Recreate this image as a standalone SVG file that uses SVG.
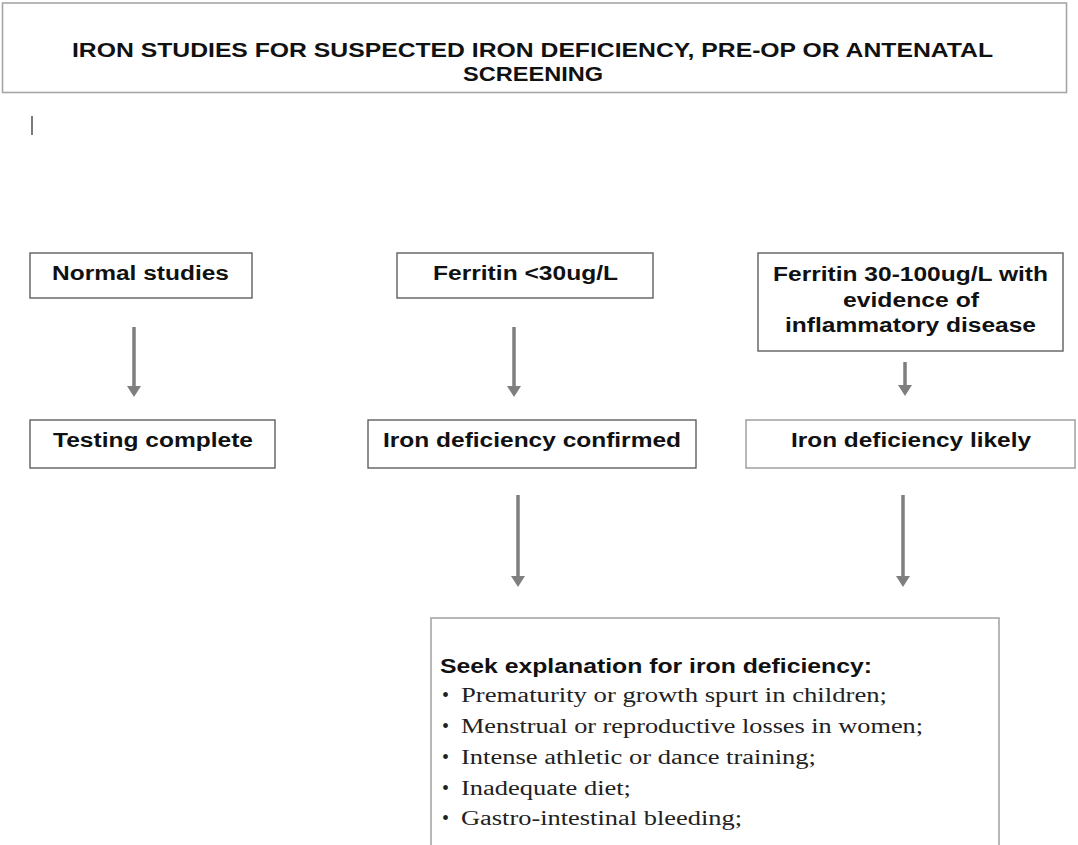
<svg xmlns="http://www.w3.org/2000/svg" width="1078" height="845" viewBox="0 0 1078 845">
  <style>
    .box { fill: #ffffff; stroke: #5f5f5f; stroke-width: 1.4; }
    .lbox { fill: #ffffff; stroke: #a6a6a6; stroke-width: 1.6; }
    .t { font-family: "Liberation Sans", Arial, sans-serif; font-weight: bold; font-size: 20px; fill: #111; }
    .title { font-family: "Liberation Sans", Arial, sans-serif; font-weight: bold; font-size: 20px; fill: #111; }
    .s { font-family: "Liberation Serif", "Times New Roman", serif; font-size: 20px; fill: #222; }
    .conn { stroke: #7f7f7f; stroke-width: 3.5; fill: none; }
  </style>
  <defs>
    <marker id="ah" markerUnits="userSpaceOnUse" viewBox="0 -7 11 14" refX="0" refY="0" markerWidth="11" markerHeight="14" orient="auto">
      <path d="M0,-7 L11,0 L0,7 z" fill="#7f7f7f"/>
    </marker>
  </defs>
  <rect width="1078" height="845" fill="#ffffff"/>

  <g id="title">
    <rect class="lbox" x="2.5" y="3" width="1064" height="89.5"/>
    <text class="title" x="72" y="57" textLength="921" lengthAdjust="spacingAndGlyphs">IRON STUDIES FOR SUSPECTED IRON DEFICIENCY, PRE-OP OR ANTENATAL</text>
    <text class="title" x="463" y="81" textLength="140" lengthAdjust="spacingAndGlyphs">SCREENING</text>
  </g>

  <line x1="32" y1="116" x2="32" y2="135" stroke="#333" stroke-width="1.3"/>

  <g id="normal">
    <rect class="box" x="30" y="253" width="222" height="45"/>
    <text class="t" x="52" y="280" textLength="177" lengthAdjust="spacingAndGlyphs">Normal studies</text>
  </g>
  <g id="ferritin-low">
    <rect class="box" x="397" y="253" width="256" height="45"/>
    <text class="t" x="433" y="280" textLength="185" lengthAdjust="spacingAndGlyphs">Ferritin &lt;30ug/L</text>
  </g>
  <g id="ferritin-mid">
    <rect class="box" x="758" y="253" width="305" height="98"/>
    <text class="t" x="773" y="281" textLength="275" lengthAdjust="spacingAndGlyphs">Ferritin 30-100ug/L with</text>
    <text class="t" x="843" y="306.5" textLength="136" lengthAdjust="spacingAndGlyphs">evidence of</text>
    <text class="t" x="785" y="332" textLength="251" lengthAdjust="spacingAndGlyphs">inflammatory disease</text>
  </g>
  <g id="testing-complete">
    <rect class="box" x="30" y="420" width="245" height="48"/>
    <text class="t" x="53" y="447" textLength="200" lengthAdjust="spacingAndGlyphs">Testing complete</text>
  </g>
  <g id="confirmed">
    <rect class="box" x="368" y="420" width="328" height="48"/>
    <text class="t" x="383" y="447" textLength="298" lengthAdjust="spacingAndGlyphs">Iron deficiency confirmed</text>
  </g>
  <g id="likely">
    <rect class="lbox" x="746" y="420" width="329" height="48"/>
    <text class="t" x="791" y="447" textLength="240" lengthAdjust="spacingAndGlyphs">Iron deficiency likely</text>
  </g>
  <g id="explanation">
    <rect class="lbox" x="431" y="618" width="568" height="260"/>
    <text class="t" x="440" y="673" font-size="21" textLength="432" lengthAdjust="spacingAndGlyphs">Seek explanation for iron deficiency:</text>
    <text class="s" x="445.5" y="702" text-anchor="middle">•</text>
    <text class="s" x="461" y="702" textLength="426" lengthAdjust="spacingAndGlyphs">Prematurity or growth spurt in children;</text>
    <text class="s" x="445.5" y="733" text-anchor="middle">•</text>
    <text class="s" x="461" y="733" textLength="462" lengthAdjust="spacingAndGlyphs">Menstrual or reproductive losses in women;</text>
    <text class="s" x="445.5" y="764" text-anchor="middle">•</text>
    <text class="s" x="461" y="764" textLength="355" lengthAdjust="spacingAndGlyphs">Intense athletic or dance training;</text>
    <text class="s" x="445.5" y="794.5" text-anchor="middle">•</text>
    <text class="s" x="461" y="794.5" textLength="170" lengthAdjust="spacingAndGlyphs">Inadequate diet;</text>
    <text class="s" x="445.5" y="825" text-anchor="middle">•</text>
    <text class="s" x="461" y="825" textLength="281" lengthAdjust="spacingAndGlyphs">Gastro-intestinal bleeding;</text>
  </g>

  <g id="connectors">
    <line class="conn" x1="134" y1="327" x2="134" y2="386" marker-end="url(#ah)"/>
    <line class="conn" x1="514" y1="327" x2="514" y2="386" marker-end="url(#ah)"/>
    <line class="conn" x1="905" y1="362" x2="905" y2="385" marker-end="url(#ah)"/>
    <line class="conn" x1="518" y1="495" x2="518" y2="576" marker-end="url(#ah)"/>
    <line class="conn" x1="903" y1="495" x2="903" y2="576" marker-end="url(#ah)"/>
  </g>
</svg>
